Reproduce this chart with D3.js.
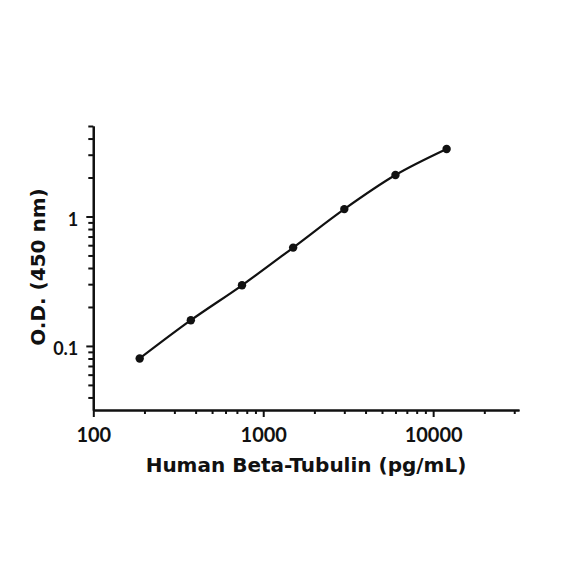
<!DOCTYPE html>
<html>
<head>
<meta charset="utf-8">
<script src="https://cdn.jsdelivr.net/npm/d3@7/dist/d3.min.js"></script>
<style>
  html, body { margin: 0; padding: 0; background: #fff; }
  svg { display: block; }
  text { font-family: "DejaVu Sans", sans-serif; font-weight: bold; fill: #111; }
</style>
</head>
<body>
<svg id="chart" width="584" height="584"></svg>
<script>
// Data
const concentrations = [187.5, 375, 750, 1500, 3000, 6000, 12000];
const odValues = [0.080, 0.158, 0.294, 0.575, 1.14, 2.09, 3.32];
const xTickValues = [100, 1000, 10000];
const xTickLabels = ["100", "1000", "10000"];
const yTickValues = [0.1, 1];
const yTickLabels = ["0.1", "1"];
const xTitle = "Human Beta-Tubulin (pg/mL)";
const yTitle = "O.D. (450 nm)";

const svg = d3.select("#chart");
const plotLeft = 93.3, plotRight = 519, plotTop = 126, plotBottom = 410;

const x = d3.scaleLog().domain([100, 32000]).range([plotLeft, plotRight]);
const y = d3.scaleLog().domain([0.032, 5]).range([plotBottom, plotTop]);

// minor ticks
const xMinor = [];
for (let d = 100; d <= 10000; d *= 10) for (let k = 2; k <= 9; k++) if (d * k <= 32000) xMinor.push(d * k);
const yMinor = [];
for (let d = 0.01; d <= 1; d *= 10) for (let k = 2; k <= 9; k++) { const v = +(d * k).toPrecision(3); if (v >= 0.032 && v <= 5) yMinor.push(v); }

const g = svg.append("g");

// X axis
const xAxisMajor = d3.axisBottom(x).tickValues(xTickValues).tickSize(7).tickFormat((d, i) => xTickLabels[i]).tickSizeOuter(0);
const xAxisMinor = d3.axisBottom(x).tickValues(xMinor).tickSize(4).tickFormat("").tickSizeOuter(0);
const gxMinor = g.append("g").attr("transform", `translate(0,${plotBottom})`).call(xAxisMinor);
const gx = g.append("g").attr("transform", `translate(0,${plotBottom})`).call(xAxisMajor);
[gx, gxMinor].forEach(a => {
  a.select(".domain").attr("stroke", "#111").attr("stroke-width", 2.2);
  a.selectAll(".tick line").attr("stroke", "#111").attr("stroke-width", 2);
});
gx.selectAll(".tick text").attr("dy", null).attr("y", 31.7).style("font-size", "20px").style("font-family", "Lato, sans-serif").style("font-weight", "bold").attr("fill", "#111");

// Y axis
const yAxisMajor = d3.axisLeft(y).tickValues(yTickValues).tickSize(7).tickFormat((d, i) => yTickLabels[i]).tickSizeOuter(0);
const yAxisMinor = d3.axisLeft(y).tickValues(yMinor).tickSize(5).tickFormat("").tickSizeOuter(0);
const gyMinor = g.append("g").attr("transform", `translate(${plotLeft},0)`).call(yAxisMinor);
const gy = g.append("g").attr("transform", `translate(${plotLeft},0)`).call(yAxisMajor);
[gy, gyMinor].forEach(a => {
  a.select(".domain").attr("stroke", "#111").attr("stroke-width", 2.2);
  a.selectAll(".tick line").attr("stroke", "#111").attr("stroke-width", 2);
});
gy.selectAll(".tick text").attr("x", -15).attr("dy", "0.5em").style("font-size", "18px").style("font-family", "Lato, sans-serif").style("font-weight", "bold").attr("fill", "#111");

// Curve
const pts = concentrations.map((c, i) => [x(c), y(odValues[i])]);
const line = d3.line().curve(d3.curveCatmullRom.alpha(0.5));
g.append("path").attr("d", line(pts)).attr("fill", "none").attr("stroke", "#111").attr("stroke-width", 2.2);

g.selectAll("circle.pt").data(concentrations).enter().append("circle")
  .attr("class", "pt")
  .attr("cx", d => x(d))
  .attr("cy", (d, i) => y(odValues[i]))
  .attr("r", 4.2)
  .attr("fill", "#111");

// Titles
svg.append("text").attr("x", 306).attr("y", 472).attr("text-anchor", "middle").style("font-size", "20px").text(xTitle);
svg.append("text").attr("transform", "translate(45,267) rotate(-90)").attr("text-anchor", "middle").style("font-size", "20px").text(yTitle);
</script>
</body>
</html>
